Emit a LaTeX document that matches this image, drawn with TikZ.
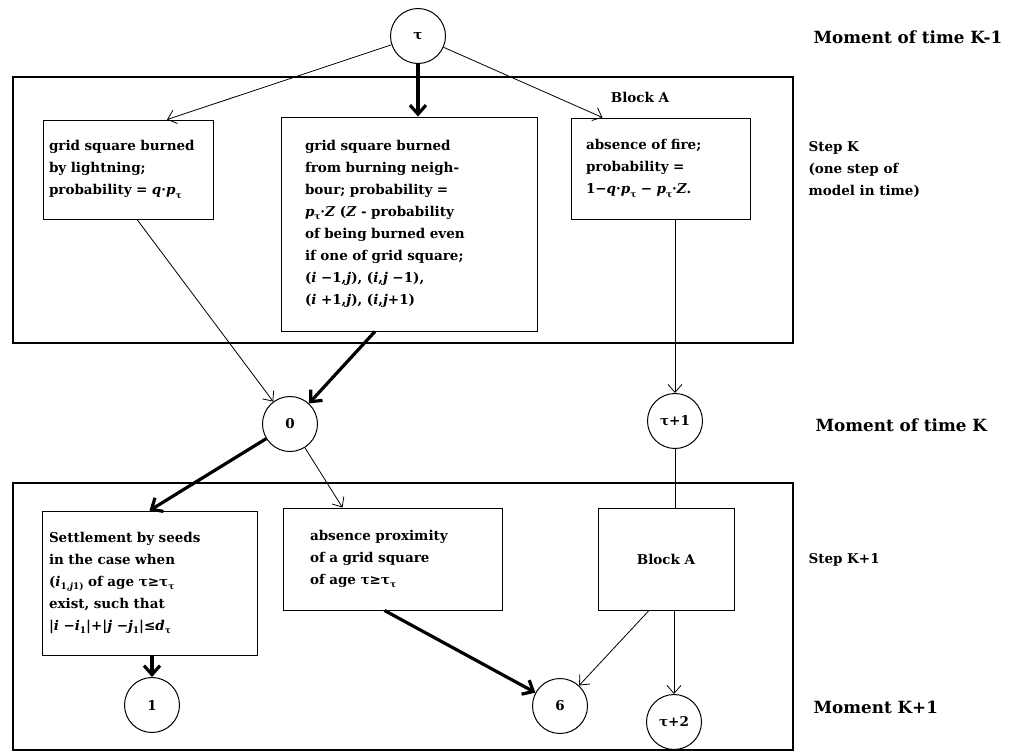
\documentclass[tikz,border=0pt]{standalone}
\usepackage{fontspec}
\setmainfont{DejaVu Serif}
\usetikzlibrary{arrows.meta}
\newcommand\sbs[1]{\raisebox{-0.45ex}{\fontsize{9}{9}\selectfont #1}}
\newcommand\vi[1]{\textit{#1}}
\begin{document}
\begin{tikzpicture}[x=1pt,y=-1pt,
  every node/.style={font=\bfseries\fontsize{13.5}{22}\selectfont},
  circ/.style={circle,draw,line width=1pt,minimum size=55pt,inner sep=0pt},
  sbox/.style={draw,line width=0.9pt,align=left,inner sep=0pt},
  lab/.style={anchor=west,align=left},
  mlab/.style={anchor=west,font=\bfseries\fontsize{16.8}{20}\selectfont},
  arr/.style={-{Straight Barb[length=8pt,width=14pt]},line width=0.8pt},
  tarr/.style={-{Straight Barb[length=9pt,width=16pt]},line width=3.2pt},
  frame/.style={line width=1.3pt}]
\useasboundingbox (0,0) rectangle (1014,753);
% outer frames
\draw[frame] (13,77) rectangle (793,343);
\draw[frame] (13,483) rectangle (793,750);
\node (blockA) at (640,97) {Block A};
% circles
\node[circ] (t) at (418,36) {τ};
\node[circ] (c0) at (290,424) {0};
\node[circ] (tp1) at (675,421) {τ+1};
\node[circ] (c1) at (152,705) {1};
\node[circ] (c6) at (560,706) {6};
\node[circ] (tp2) at (674,722) {τ+2};
% boxes
\node[sbox,minimum width=170pt,minimum height=99pt,text width=158pt] (b1) at (128,169.5)
 {grid square burned\\by lightning;\\probability = \vi{q}·\vi{p}\sbs{τ}};
\node[sbox,minimum width=256pt,minimum height=214pt,text width=208pt] (b2) at (409,224)
 {grid square burned\\from burning neigh-\\bour; probability =\\\vi{p}\sbs{τ}·\vi{Z} (\vi{Z} - probability\\of being burned even\\if one of grid square;\\(\vi{i} −1,\vi{j}), (\vi{i},\vi{j} −1),\\(\vi{i} +1,\vi{j}), (\vi{i},\vi{j}+1)};
\node[sbox,minimum width=179pt,minimum height=101pt,text width=149pt] (b3) at (660.5,168.5)
 {absence of fire;\\probability =\\1−\vi{q}·\vi{p}\sbs{τ} − \vi{p}\sbs{τ}·\vi{Z}.};
\node[sbox,minimum width=215pt,minimum height=144pt,text width=201pt] (b4) at (149.5,583)
 {Settlement by seeds\\in the case when\\(\vi{i}\sbs{1,\vi{j}1)} of age τ≥τ\sbs{τ}\\exist, such that\\|\vi{i} −\vi{i}\sbs{1}|+|\vi{j} −\vi{j}\sbs{1}|≤\vi{d}\sbs{τ}};
\node[sbox,minimum width=219pt,minimum height=102pt,text width=165pt] (b5) at (392.5,559)
 {absence proximity\\of a grid square\\of age τ≥τ\sbs{τ}};
\node[sbox,minimum width=136pt,minimum height=102pt] (ba2) at (666,559) {Block A};
% right labels
\node[mlab] (m1) at (810,37) {Moment of time K-1};
\node[lab] (s1) at (805,170) {Step K\\(one step of\\model in time)};
\node[mlab] (m2) at (812,425) {Moment of time K};
\node[lab] (s2) at (805,560) {Step K+1};
\node[mlab] (m3) at (810,707) {Moment K+1};
% connectors
\draw[arr] (t) -- ([xshift=39pt]b1.north);
\draw[tarr] (t) -- (t |- b2.north);
\draw[arr] (t) -- ([xshift=-58pt]b3.north);
\draw[arr] ([xshift=9pt]b1.south) -- (c0);
\draw[tarr] ([xshift=-34pt]b2.south) -- (c0);
\draw[arr] (tp1 |- b3.south) -- (tp1);
\draw[line width=0.8pt] (tp1) -- (tp1 |- ba2.north);
\draw[tarr] (c0) -- (b4.north);
\draw[arr] (c0) -- ([xshift=-50pt]b5.north);
\draw[tarr] (c1 |- b4.south) -- (c1);
\draw[tarr] ([xshift=-8pt]b5.south) -- (c6);
\draw[arr] ([xshift=-17pt]ba2.south) -- (c6);
\draw[arr] (tp2 |- ba2.south) -- (tp2);
\end{tikzpicture}
\end{document}
